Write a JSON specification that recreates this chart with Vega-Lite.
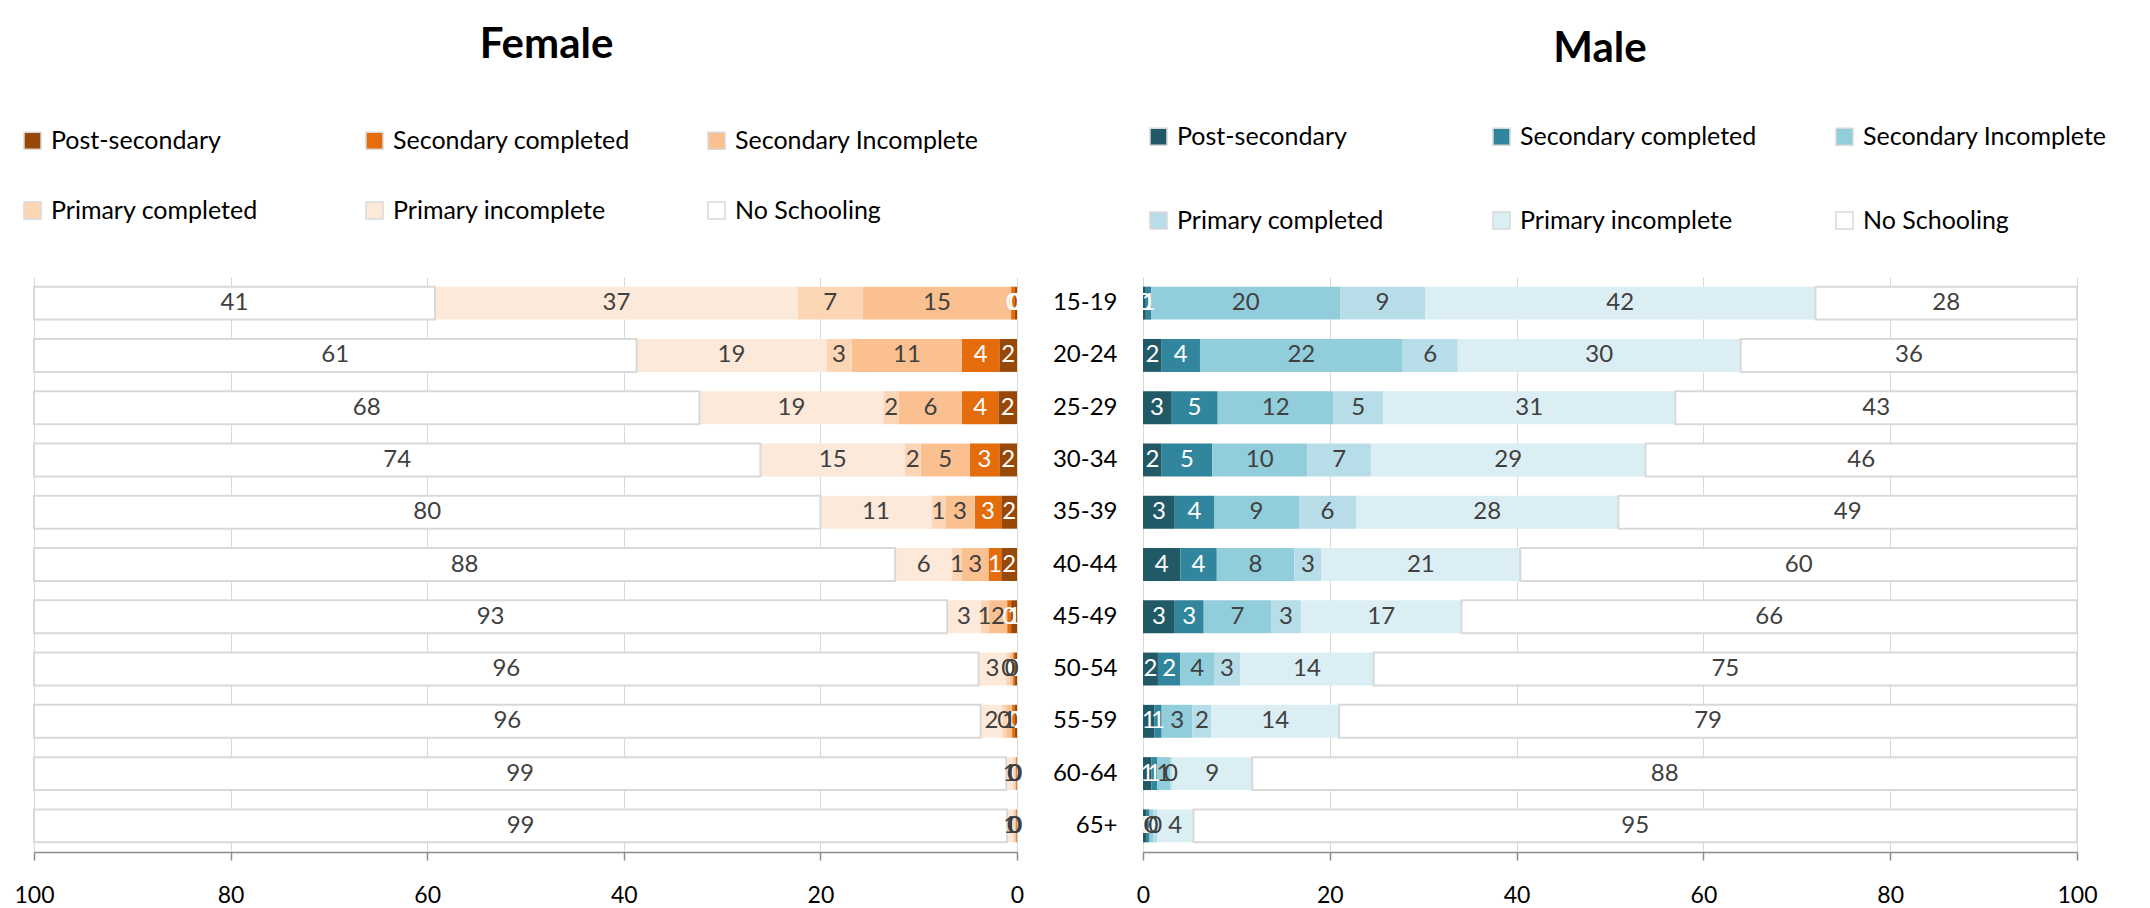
{
  "$schema": "https://vega.github.io/schema/vega-lite/v6.json",
  "autosize": {"type": "none"},
  "padding": {"left": 34, "top": 277, "right": 2116, "bottom": 631},
  "background": "white",
  "config": {
    "font": "Lato",
    "view": {"stroke": null},
    "text": {"font": "Lato"}
  },
  "datasets": {
    "female": [
      {"age": "15-19", "level": "Post-secondary", "ord": 1, "value": 0.2},
      {"age": "15-19", "level": "Secondary completed", "ord": 2, "value": 0.4},
      {"age": "15-19", "level": "Secondary Incomplete", "ord": 3, "value": 15.1},
      {"age": "15-19", "level": "Primary completed", "ord": 4, "value": 6.6},
      {"age": "15-19", "level": "Primary incomplete", "ord": 5, "value": 36.9},
      {"age": "15-19", "level": "No Schooling", "ord": 6, "value": 40.8},
      {"age": "20-24", "level": "Post-secondary", "ord": 1, "value": 1.8},
      {"age": "20-24", "level": "Secondary completed", "ord": 2, "value": 3.8},
      {"age": "20-24", "level": "Secondary Incomplete", "ord": 3, "value": 11.2},
      {"age": "20-24", "level": "Primary completed", "ord": 4, "value": 2.6},
      {"age": "20-24", "level": "Primary incomplete", "ord": 5, "value": 19.3},
      {"age": "20-24", "level": "No Schooling", "ord": 6, "value": 61.3},
      {"age": "25-29", "level": "Post-secondary", "ord": 1, "value": 1.9},
      {"age": "25-29", "level": "Secondary completed", "ord": 2, "value": 3.7},
      {"age": "25-29", "level": "Secondary Incomplete", "ord": 3, "value": 6.4},
      {"age": "25-29", "level": "Primary completed", "ord": 4, "value": 1.6},
      {"age": "25-29", "level": "Primary incomplete", "ord": 5, "value": 18.7},
      {"age": "25-29", "level": "No Schooling", "ord": 6, "value": 67.7},
      {"age": "30-34", "level": "Post-secondary", "ord": 1, "value": 1.8},
      {"age": "30-34", "level": "Secondary completed", "ord": 2, "value": 3.0},
      {"age": "30-34", "level": "Secondary Incomplete", "ord": 3, "value": 5.0},
      {"age": "30-34", "level": "Primary completed", "ord": 4, "value": 1.6},
      {"age": "30-34", "level": "Primary incomplete", "ord": 5, "value": 14.7},
      {"age": "30-34", "level": "No Schooling", "ord": 6, "value": 73.9},
      {"age": "35-39", "level": "Post-secondary", "ord": 1, "value": 1.6},
      {"age": "35-39", "level": "Secondary completed", "ord": 2, "value": 2.7},
      {"age": "35-39", "level": "Secondary Incomplete", "ord": 3, "value": 3.0},
      {"age": "35-39", "level": "Primary completed", "ord": 4, "value": 1.4},
      {"age": "35-39", "level": "Primary incomplete", "ord": 5, "value": 11.3},
      {"age": "35-39", "level": "No Schooling", "ord": 6, "value": 80.0},
      {"age": "40-44", "level": "Post-secondary", "ord": 1, "value": 1.6},
      {"age": "40-44", "level": "Secondary completed", "ord": 2, "value": 1.3},
      {"age": "40-44", "level": "Secondary Incomplete", "ord": 3, "value": 2.7},
      {"age": "40-44", "level": "Primary completed", "ord": 4, "value": 1.0},
      {"age": "40-44", "level": "Primary incomplete", "ord": 5, "value": 5.8},
      {"age": "40-44", "level": "No Schooling", "ord": 6, "value": 87.6},
      {"age": "45-49", "level": "Post-secondary", "ord": 1, "value": 0.6},
      {"age": "45-49", "level": "Secondary completed", "ord": 2, "value": 0.4},
      {"age": "45-49", "level": "Secondary Incomplete", "ord": 3, "value": 1.9},
      {"age": "45-49", "level": "Primary completed", "ord": 4, "value": 0.8},
      {"age": "45-49", "level": "Primary incomplete", "ord": 5, "value": 3.4},
      {"age": "45-49", "level": "No Schooling", "ord": 6, "value": 92.9},
      {"age": "50-54", "level": "Post-secondary", "ord": 1, "value": 0.2},
      {"age": "50-54", "level": "Secondary completed", "ord": 2, "value": 0.2},
      {"age": "50-54", "level": "Secondary Incomplete", "ord": 3, "value": 0.3},
      {"age": "50-54", "level": "Primary completed", "ord": 4, "value": 0.4},
      {"age": "50-54", "level": "Primary incomplete", "ord": 5, "value": 2.8},
      {"age": "50-54", "level": "No Schooling", "ord": 6, "value": 96.1},
      {"age": "55-59", "level": "Post-secondary", "ord": 1, "value": 0.2},
      {"age": "55-59", "level": "Secondary completed", "ord": 2, "value": 0.3},
      {"age": "55-59", "level": "Secondary Incomplete", "ord": 3, "value": 0.6},
      {"age": "55-59", "level": "Primary completed", "ord": 4, "value": 0.4},
      {"age": "55-59", "level": "Primary incomplete", "ord": 5, "value": 2.2},
      {"age": "55-59", "level": "No Schooling", "ord": 6, "value": 96.3},
      {"age": "60-64", "level": "Post-secondary", "ord": 1, "value": 0.05},
      {"age": "60-64", "level": "Secondary completed", "ord": 2, "value": 0.05},
      {"age": "60-64", "level": "Secondary Incomplete", "ord": 3, "value": 0.1},
      {"age": "60-64", "level": "Primary completed", "ord": 4, "value": 0.2},
      {"age": "60-64", "level": "Primary incomplete", "ord": 5, "value": 0.7},
      {"age": "60-64", "level": "No Schooling", "ord": 6, "value": 98.9},
      {"age": "65+", "level": "Post-secondary", "ord": 1, "value": 0.05},
      {"age": "65+", "level": "Secondary completed", "ord": 2, "value": 0.05},
      {"age": "65+", "level": "Secondary Incomplete", "ord": 3, "value": 0.1},
      {"age": "65+", "level": "Primary completed", "ord": 4, "value": 0.2},
      {"age": "65+", "level": "Primary incomplete", "ord": 5, "value": 0.6},
      {"age": "65+", "level": "No Schooling", "ord": 6, "value": 99.0}
    ],
    "male": [
      {"age": "15-19", "level": "Post-secondary", "ord": 1, "value": 0.3},
      {"age": "15-19", "level": "Secondary completed", "ord": 2, "value": 0.6},
      {"age": "15-19", "level": "Secondary Incomplete", "ord": 3, "value": 20.2},
      {"age": "15-19", "level": "Primary completed", "ord": 4, "value": 9.1},
      {"age": "15-19", "level": "Primary incomplete", "ord": 5, "value": 41.8},
      {"age": "15-19", "level": "No Schooling", "ord": 6, "value": 28.0},
      {"age": "20-24", "level": "Post-secondary", "ord": 1, "value": 2.0},
      {"age": "20-24", "level": "Secondary completed", "ord": 2, "value": 4.1},
      {"age": "20-24", "level": "Secondary Incomplete", "ord": 3, "value": 21.7},
      {"age": "20-24", "level": "Primary completed", "ord": 4, "value": 5.9},
      {"age": "20-24", "level": "Primary incomplete", "ord": 5, "value": 30.3},
      {"age": "20-24", "level": "No Schooling", "ord": 6, "value": 36.0},
      {"age": "25-29", "level": "Post-secondary", "ord": 1, "value": 3.0},
      {"age": "25-29", "level": "Secondary completed", "ord": 2, "value": 5.0},
      {"age": "25-29", "level": "Secondary Incomplete", "ord": 3, "value": 12.4},
      {"age": "25-29", "level": "Primary completed", "ord": 4, "value": 5.3},
      {"age": "25-29", "level": "Primary incomplete", "ord": 5, "value": 31.3},
      {"age": "25-29", "level": "No Schooling", "ord": 6, "value": 43.0},
      {"age": "30-34", "level": "Post-secondary", "ord": 1, "value": 2.0},
      {"age": "30-34", "level": "Secondary completed", "ord": 2, "value": 5.4},
      {"age": "30-34", "level": "Secondary Incomplete", "ord": 3, "value": 10.2},
      {"age": "30-34", "level": "Primary completed", "ord": 4, "value": 6.8},
      {"age": "30-34", "level": "Primary incomplete", "ord": 5, "value": 29.4},
      {"age": "30-34", "level": "No Schooling", "ord": 6, "value": 46.2},
      {"age": "35-39", "level": "Post-secondary", "ord": 1, "value": 3.4},
      {"age": "35-39", "level": "Secondary completed", "ord": 2, "value": 4.2},
      {"age": "35-39", "level": "Secondary Incomplete", "ord": 3, "value": 9.1},
      {"age": "35-39", "level": "Primary completed", "ord": 4, "value": 6.1},
      {"age": "35-39", "level": "Primary incomplete", "ord": 5, "value": 28.1},
      {"age": "35-39", "level": "No Schooling", "ord": 6, "value": 49.1},
      {"age": "40-44", "level": "Post-secondary", "ord": 1, "value": 4.0},
      {"age": "40-44", "level": "Secondary completed", "ord": 2, "value": 3.9},
      {"age": "40-44", "level": "Secondary Incomplete", "ord": 3, "value": 8.3},
      {"age": "40-44", "level": "Primary completed", "ord": 4, "value": 2.9},
      {"age": "40-44", "level": "Primary incomplete", "ord": 5, "value": 21.3},
      {"age": "40-44", "level": "No Schooling", "ord": 6, "value": 59.6},
      {"age": "45-49", "level": "Post-secondary", "ord": 1, "value": 3.4},
      {"age": "45-49", "level": "Secondary completed", "ord": 2, "value": 3.1},
      {"age": "45-49", "level": "Secondary Incomplete", "ord": 3, "value": 7.2},
      {"age": "45-49", "level": "Primary completed", "ord": 4, "value": 3.2},
      {"age": "45-49", "level": "Primary incomplete", "ord": 5, "value": 17.2},
      {"age": "45-49", "level": "No Schooling", "ord": 6, "value": 65.9},
      {"age": "50-54", "level": "Post-secondary", "ord": 1, "value": 1.6},
      {"age": "50-54", "level": "Secondary completed", "ord": 2, "value": 2.4},
      {"age": "50-54", "level": "Secondary Incomplete", "ord": 3, "value": 3.6},
      {"age": "50-54", "level": "Primary completed", "ord": 4, "value": 2.8},
      {"age": "50-54", "level": "Primary incomplete", "ord": 5, "value": 14.3},
      {"age": "50-54", "level": "No Schooling", "ord": 6, "value": 75.3},
      {"age": "55-59", "level": "Post-secondary", "ord": 1, "value": 1.2},
      {"age": "55-59", "level": "Secondary completed", "ord": 2, "value": 0.8},
      {"age": "55-59", "level": "Secondary Incomplete", "ord": 3, "value": 3.3},
      {"age": "55-59", "level": "Primary completed", "ord": 4, "value": 2.0},
      {"age": "55-59", "level": "Primary incomplete", "ord": 5, "value": 13.7},
      {"age": "55-59", "level": "No Schooling", "ord": 6, "value": 79.0},
      {"age": "60-64", "level": "Post-secondary", "ord": 1, "value": 0.9},
      {"age": "60-64", "level": "Secondary completed", "ord": 2, "value": 0.6},
      {"age": "60-64", "level": "Secondary Incomplete", "ord": 3, "value": 1.4},
      {"age": "60-64", "level": "Primary completed", "ord": 4, "value": 0.2},
      {"age": "60-64", "level": "Primary incomplete", "ord": 5, "value": 8.6},
      {"age": "60-64", "level": "No Schooling", "ord": 6, "value": 88.3},
      {"age": "65+", "level": "Post-secondary", "ord": 1, "value": 0.4},
      {"age": "65+", "level": "Secondary completed", "ord": 2, "value": 0.3},
      {"age": "65+", "level": "Secondary Incomplete", "ord": 3, "value": 0.4},
      {"age": "65+", "level": "Primary completed", "ord": 4, "value": 0.4},
      {"age": "65+", "level": "Primary incomplete", "ord": 5, "value": 3.9},
      {"age": "65+", "level": "No Schooling", "ord": 6, "value": 94.6}
    ]
  },
  "bounds": "flush",
  "spacing": 126,
  "resolve": {"scale": {"color": "independent"}, "legend": {"color": "independent"}},
  "hconcat": [
    {
      "width": 983,
      "height": 575,
      "title": {"text": "Female", "fontSize": 42, "fontWeight": "bold", "color": "#000000", "anchor": "middle", "dx": 21, "baseline": "alphabetic", "offset": 28},
      "data": {"name": "female"},
      "encoding": {
        "y": {"field": "age", "type": "nominal", "sort": ["15-19", "20-24", "25-29", "30-34", "35-39", "40-44", "45-49", "50-54", "55-59", "60-64", "65+"], "axis": null, "scale": {"paddingInner": 0.37, "paddingOuter": 0.185}},
        "order": {"field": "ord", "type": "quantitative"}
      },
      "layer": [
        {
          "mark": {"type": "bar", "stroke": "#D9D9D9"},
          "encoding": {
            "x": {"field": "value", "type": "quantitative", "stack": "zero", "scale": {"domain": [0, 100], "reverse": true, "nice": false},
              "axis": {"title": null, "values": [0, 20, 40, 60, 80, 100], "grid": true, "gridColor": "#D9D9D9", "gridWidth": 1, "domainColor": "#8C8C8C", "domainWidth": 1.5, "tickColor": "#8C8C8C", "tickWidth": 1.5, "tickSize": 8, "labelFontSize": 23, "labelColor": "#000000", "labelPadding": 24, "labelFlush": false, "labelFont": "Lato"}},
            "color": {"field": "level", "type": "nominal",
              "scale": {"domain": ["Post-secondary", "Secondary completed", "Secondary Incomplete", "Primary completed", "Primary incomplete", "No Schooling"], "range": ["#984807", "#E46C0A", "#FAC090", "#FCD5B5", "#FDE9D9", "#FFFFFF"]},
              "legend": {"orient": "none", "legendX": -14, "legendY": -149, "direction": "horizontal", "columns": 3, "title": null, "symbolType": "square", "symbolSize": 289, "labelFontSize": 25, "labelFont": "Lato", "labelColor": "#000000", "labelOffset": 6, "rowPadding": 44, "columnPadding": 67, "gridAlign": "all", "labelLimit": 400, "padding": 0,
                "encode": {"symbols": {"update": {"stroke": {"signal": "datum.label === 'No Schooling' ? '#BFBFBF' : 'transparent'"}, "strokeWidth": {"value": 1.5}}}}}},
            "strokeWidth": {"condition": {"test": "datum.level === 'No Schooling'", "value": 2}, "value": 0}
          }
        },
        {
          "mark": {"type": "text", "fontSize": 24, "font": "Lato"},
          "encoding": {
            "x": {"field": "value", "type": "quantitative", "stack": "zero", "bandPosition": 0.5, "scale": {"domain": [0, 100], "reverse": true, "nice": false},
              "axis": {"title": null, "values": [0, 20, 40, 60, 80, 100], "grid": true, "gridColor": "#D9D9D9", "gridWidth": 1, "domainColor": "#8C8C8C", "domainWidth": 1.5, "tickColor": "#8C8C8C", "tickWidth": 1.5, "tickSize": 8, "labelFontSize": 23, "labelColor": "#000000", "labelPadding": 24, "labelFlush": false, "labelFont": "Lato"}},
            "detail": {"field": "level"},
            "text": {"field": "value", "type": "quantitative", "format": ".0f"},
            "color": {"condition": {"test": "datum.level === 'Post-secondary' || datum.level === 'Secondary completed'", "value": "#FFFFFF"}, "value": "#404040"}
          }
        }
      ]
    },
    {
      "width": 934,
      "height": 575,
      "title": {"text": "Male", "fontSize": 42, "fontWeight": "bold", "color": "#000000", "anchor": "middle", "dx": -10, "baseline": "alphabetic", "offset": 20},
      "data": {"name": "male"},
      "encoding": {
        "y": {"field": "age", "type": "nominal", "sort": ["15-19", "20-24", "25-29", "30-34", "35-39", "40-44", "45-49", "50-54", "55-59", "60-64", "65+"],
          "axis": {"title": null, "ticks": false, "domain": false, "labelFontSize": 24, "labelFont": "Lato", "labelColor": "#000000", "labelPadding": 26},
          "scale": {"paddingInner": 0.37, "paddingOuter": 0.185}},
        "order": {"field": "ord", "type": "quantitative"}
      },
      "layer": [
        {
          "mark": {"type": "bar", "stroke": "#D9D9D9"},
          "encoding": {
            "x": {"field": "value", "type": "quantitative", "stack": "zero", "scale": {"domain": [0, 100], "nice": false},
              "axis": {"title": null, "values": [0, 20, 40, 60, 80, 100], "grid": true, "gridColor": "#D9D9D9", "gridWidth": 1, "domainColor": "#8C8C8C", "domainWidth": 1.5, "tickColor": "#8C8C8C", "tickWidth": 1.5, "tickSize": 8, "labelFontSize": 23, "labelColor": "#000000", "labelPadding": 24, "labelFlush": false, "labelFont": "Lato"}},
            "color": {"field": "level", "type": "nominal",
              "scale": {"domain": ["Post-secondary", "Secondary completed", "Secondary Incomplete", "Primary completed", "Primary incomplete", "No Schooling"], "range": ["#215967", "#31859C", "#92CDDC", "#B7DEE8", "#DAEEF3", "#FFFFFF"]},
              "legend": {"orient": "none", "legendX": 3, "legendY": -153, "direction": "horizontal", "columns": 3, "title": null, "symbolType": "square", "symbolSize": 289, "labelFontSize": 25, "labelFont": "Lato", "labelColor": "#000000", "labelOffset": 6, "rowPadding": 58, "columnPadding": 68, "gridAlign": "all", "labelLimit": 400, "padding": 0,
                "encode": {"symbols": {"update": {"stroke": {"signal": "datum.label === 'No Schooling' ? '#BFBFBF' : 'transparent'"}, "strokeWidth": {"value": 1.5}}}}}},
            "strokeWidth": {"condition": {"test": "datum.level === 'No Schooling'", "value": 2}, "value": 0}
          }
        },
        {
          "mark": {"type": "text", "fontSize": 24, "font": "Lato"},
          "encoding": {
            "x": {"field": "value", "type": "quantitative", "stack": "zero", "bandPosition": 0.5, "scale": {"domain": [0, 100], "nice": false},
              "axis": {"title": null, "values": [0, 20, 40, 60, 80, 100], "grid": true, "gridColor": "#D9D9D9", "gridWidth": 1, "domainColor": "#8C8C8C", "domainWidth": 1.5, "tickColor": "#8C8C8C", "tickWidth": 1.5, "tickSize": 8, "labelFontSize": 23, "labelColor": "#000000", "labelPadding": 24, "labelFlush": false, "labelFont": "Lato"}},
            "detail": {"field": "level"},
            "text": {"field": "value", "type": "quantitative", "format": ".0f"},
            "color": {"condition": {"test": "datum.level === 'Post-secondary' || datum.level === 'Secondary completed'", "value": "#FFFFFF"}, "value": "#404040"}
          }
        }
      ]
    }
  ]
}
